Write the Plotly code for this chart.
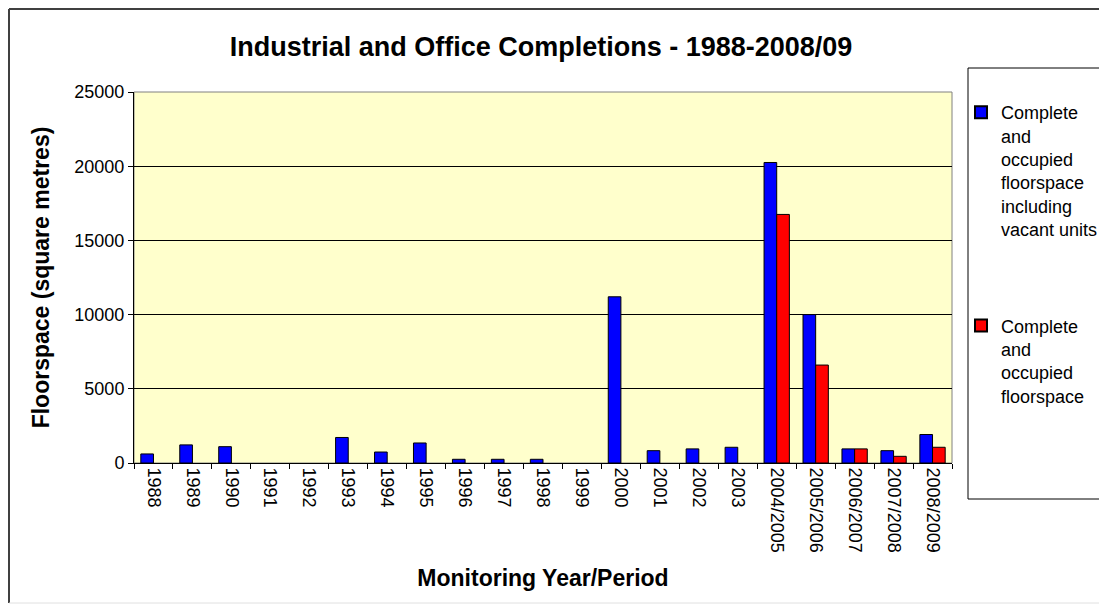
import plotly.graph_objects as go

categories = ["1988", "1989", "1990", "1991", "1992", "1993", "1994", "1995", "1996",
              "1997", "1998", "1999", "2000", "2001", "2002", "2003", "2004/2005",
              "2005/2006", "2006/2007", "2007/2008", "2008/2009"]
incl_vacant = [610, 1220, 1100, None, None, 1720, 740, 1350, 250, 250, 250, None, 11200,
               830, 950, 1060, 20250, 10000, 950, 830, 1920]
occupied = [None, None, None, None, None, None, None, None, None, None, None, None,
            None, None, None, None, 16750, 6600, 950, 450, 1060]
series_names = ["Complete<br>and<br>occupied<br>floorspace<br>including<br>vacant units",
                "Complete<br>and<br>occupied<br>floorspace"]
y_ticks = [0, 5000, 10000, 15000, 20000, 25000]

# page is offset by the 8px body margin; work in reference pixel coords
OFF = 8
W, H = 1107, 605
RL, RR, RT, RB = 134, 952, 92, 463  # plot area in reference pixels


def px(x):
    return (x - RL) / (RR - RL)


def py(y):
    return (RB - y) / (RB - RT)


FONT = "Liberation Sans, Arial, sans-serif"

fig = go.Figure()
fig.add_trace(go.Bar(x=categories, y=incl_vacant, name=series_names[0],
                     legendgroup="a",
                     marker=dict(color="#0000FF", line=dict(color="#000000", width=1))))
fig.add_trace(go.Bar(x=categories, y=occupied, name=series_names[1],
                     legendgroup="b",
                     marker=dict(color="#FF0000", line=dict(color="#000000", width=1))))

shapes = [
    dict(type="rect", xref="paper", yref="paper", x0=0, x1=1, y0=0, y1=1,
         line=dict(color="#808080", width=1), layer="below"),
    dict(type="rect", xref="paper", yref="paper", x0=px(968), x1=px(1105),
         y0=py(499), y1=py(68), line=dict(color="#000000", width=1),
         fillcolor="rgba(0,0,0,0)"),
    dict(type="line", xref="paper", yref="paper", x0=px(OFF + 1), x1=px(1130),
         y0=py(OFF + 1), y1=py(OFF + 1), line=dict(color="#404040", width=2)),
    dict(type="line", xref="paper", yref="paper", x0=px(OFF + 1), x1=px(OFF + 1),
         y0=py(OFF + 1), y1=py(603), line=dict(color="#404040", width=2)),
    dict(type="line", xref="paper", yref="paper", x0=px(OFF + 1), x1=px(1130),
         y0=py(603), y1=py(603), line=dict(color="#E0E0E0", width=1)),
]

fig.update_layout(
    width=W, height=H,
    margin=dict(l=RL - OFF, r=W - (RR - OFF), t=RT - OFF, b=H - (RB - OFF), pad=0,
                autoexpand=False),
    paper_bgcolor="#FFFFFF",
    plot_bgcolor="#FFFFCC",
    font=dict(family=FONT, color="#000000", size=18),
    title=dict(text="<b>Industrial and Office Completions - 1988-2008/09</b>",
               x=(541 - OFF) / W, xanchor="center",
               y=1 - (47 - OFF) / H, yanchor="middle",
               font=dict(family=FONT, size=27, color="#000000")),
    barmode="group",
    bargap=0.35,
    bargroupgap=0,
    showlegend=True,
    legend=dict(x=px(961), xanchor="left", y=py(94), yanchor="top",
                bgcolor="rgba(0,0,0,0)", borderwidth=0,
                font=dict(family=FONT, size=18, color="#000000"),
                tracegroupgap=70, valign="top", itemsizing="constant",
                itemwidth=30),
    shapes=shapes,
)

fig.update_xaxes(
    type="category",
    tickangle=90,
    tickson="boundaries",
    ticks="outside", ticklen=5, tickcolor="#000000",
    showline=True, linecolor="#000000", linewidth=1,
    showgrid=False,
    tickfont=dict(family=FONT, size=18, color="#000000"),
    title=dict(text="<b>Monitoring Year/Period</b>",
               font=dict(family=FONT, size=23, color="#000000"), standoff=18),
)
fig.update_yaxes(
    range=[0, 25000],
    tickvals=y_ticks,
    tickformat="d",
    ticks="outside", ticklen=5, tickcolor="#000000",
    showline=True, linecolor="#000000", linewidth=1,
    showgrid=True, gridcolor="#000000", gridwidth=1,
    zeroline=False,
    tickfont=dict(family=FONT, size=18, color="#000000"),
    title=dict(text="<b>Floorspace (square metres)</b>",
               font=dict(family=FONT, size=23, color="#000000"), standoff=18),
)

fig.write_html("out.html")
